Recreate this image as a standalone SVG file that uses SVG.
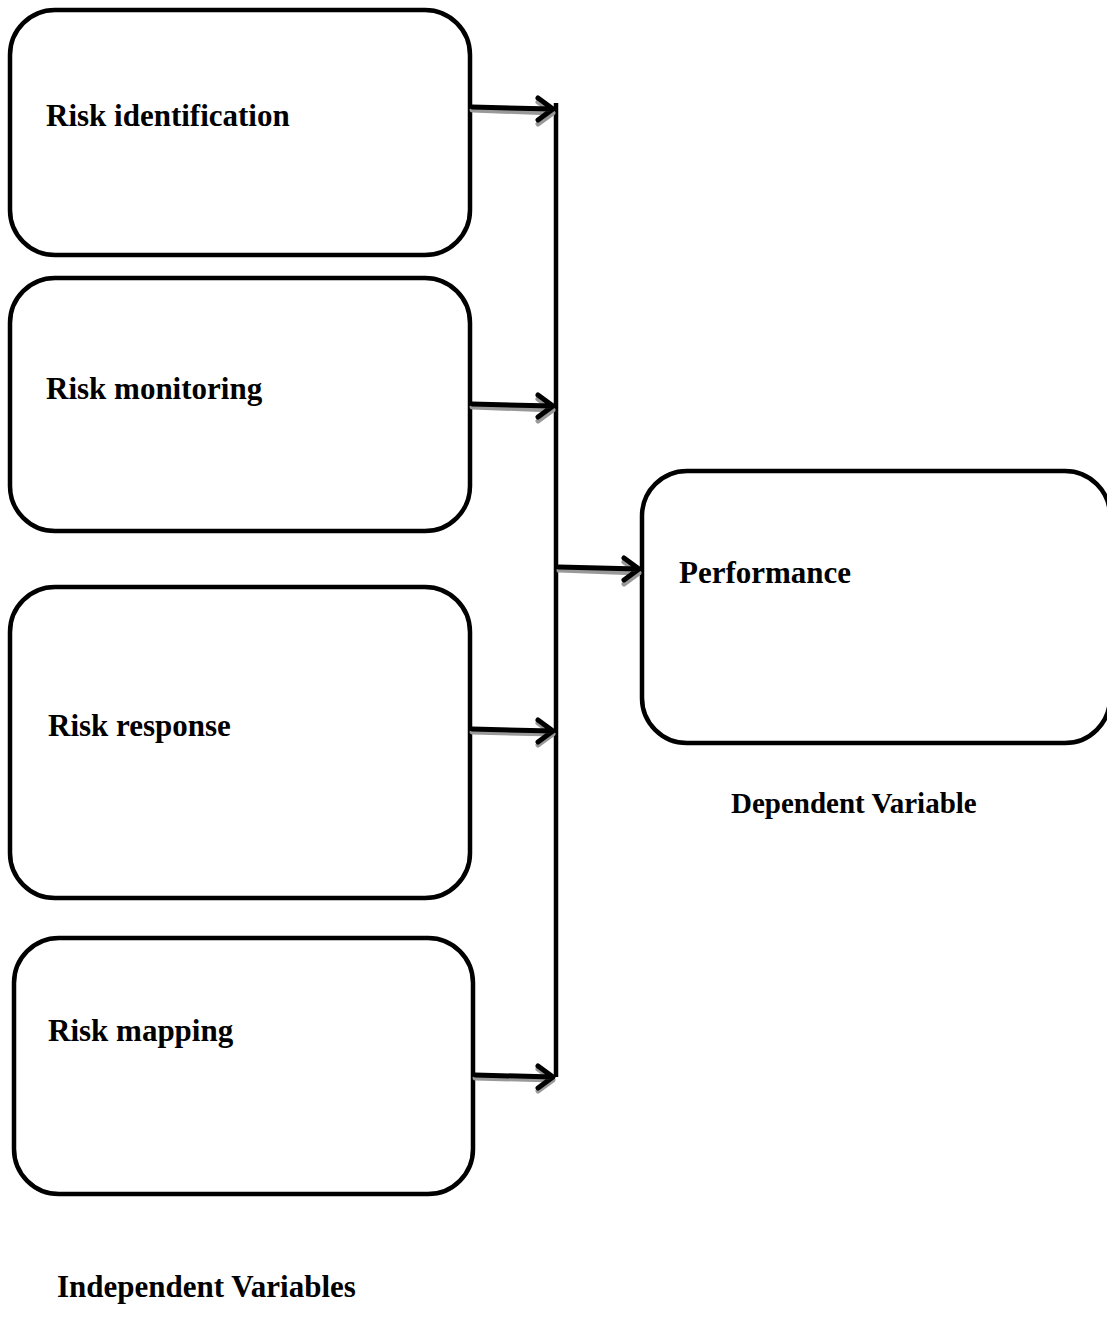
<svg xmlns="http://www.w3.org/2000/svg" width="1107" height="1333" viewBox="0 0 1107 1333">
<style>
.box{fill:#fff;stroke:#000;stroke-width:4.5}
.lbl{font-family:"Liberation Serif","Times New Roman",serif;font-weight:bold;font-size:31px;fill:#000}
.cap{font-family:"Liberation Serif","Times New Roman",serif;font-weight:bold;font-size:29px;fill:#000}
.ln{stroke:#000;stroke-width:4.5;fill:none}
.sh{stroke:#999;stroke-width:5;fill:none;stroke-linecap:round;stroke-linejoin:round}
.ar{stroke:#000;stroke-width:5;fill:none;stroke-linecap:round;stroke-linejoin:round}
</style>
<rect width="1107" height="1333" fill="#fff"/>
<g id="n1"><rect class="box" x="10" y="10" width="460" height="245" rx="45"/><text class="lbl" x="46" y="126">Risk identification</text></g>
<g id="n2"><rect class="box" x="10" y="278" width="460" height="253" rx="45"/><text class="lbl" x="46" y="399">Risk monitoring</text></g>
<g id="n3"><rect class="box" x="10" y="587" width="460" height="311" rx="45"/><text class="lbl" x="48" y="736">Risk response</text></g>
<g id="n4"><rect class="box" x="14" y="938" width="459" height="256" rx="45"/><text class="lbl" x="48" y="1041">Risk mapping</text></g>
<g id="n5"><rect class="box" x="642" y="471" width="468" height="272" rx="45"/><text class="lbl" x="679" y="583">Performance</text></g>
<g id="connectors">
<line class="ln" x1="556" y1="103" x2="556" y2="1077"/>
<g class="sh">
<path d="M472 110 L553 113 M538 102 L553 113 L538 124"/>
<path d="M472 407 L553 410 M538 399 L553 410 L538 421"/>
<path d="M472 732 L553 734 M538 723 L553 734 L538 745"/>
<path d="M475 1078 L553 1080 M538 1069 L553 1080 L538 1091"/>
<path d="M559 570 L639 573 M624 562 L639 573 L624 584"/>
</g>
<g class="ar">
<path d="M472 107 L553 109 M538 98 L553 109 L538 120"/>
<path d="M472 404 L553 406 M538 395 L553 406 L538 417"/>
<path d="M472 729 L553 731 M538 720 L553 731 L538 742"/>
<path d="M475 1075 L553 1077 M538 1066 L553 1077 L538 1088"/>
<path d="M559 567 L639 569 M624 558 L639 569 L624 580"/>
</g>
</g>
<text class="cap" x="731" y="813">Dependent Variable</text>
<text class="cap" x="57" y="1297" style="font-size:31px">Independent Variables</text>
</svg>
